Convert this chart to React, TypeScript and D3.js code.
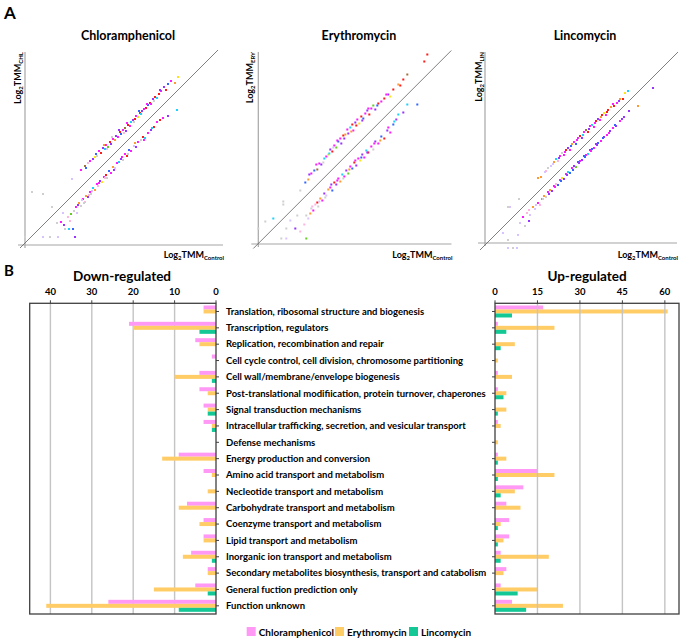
import React from 'react';
import * as d3 from 'd3';

// ---- bar chart data (COG categories) ----
const categories = [
  'Translation, ribosomal structure and biogenesis',
  'Transcription, regulators',
  'Replication, recombination and repair',
  'Cell cycle control, cell division, chromosome partitioning',
  'Cell wall/membrane/envelope biogenesis',
  'Post-translational modifiication, protein turnover, chaperones',
  'Signal transduction mechanisms',
  'Intracellular trafficking, secretion, and vesicular transport',
  'Defense mechanisms',
  'Energy production and conversion',
  'Amino acid transport and metabolism',
  'Necleotide transport and metabolism',
  'Carbohydrate transport and metabolism',
  'Coenzyme transport and metabolism',
  'Lipid transport and metabolism',
  'Inorganic ion transport and metabolism',
  'Secondary metabolites biosynthesis, transport and catabolism',
  'General fuction prediction only',
  'Function unknown',
];
const downChl = [3, 21, 5, 1, 4, 4, 3, 3, 0, 9, 3, 0, 7, 3, 3, 6, 2, 5, 26];
const downEry = [3, 20, 4, 0, 10, 2, 2, 1, 0, 13, 1, 2, 9, 4, 3, 8, 2, 15, 41];
const downLin = [0, 4, 0, 0, 1, 0, 2, 1, 0, 0, 0, 0, 0, 0, 0, 1, 0, 2, 9];
const upChl = [17, 1, 0, 0, 1, 1, 0, 1, 0, 1, 15, 10, 4, 5, 5, 2, 4, 2, 6];
const upEry = [61, 21, 7, 1, 6, 4, 4, 2, 1, 4, 21, 7, 9, 2, 3, 19, 3, 15, 24];
const upLin = [6, 4, 2, 0, 0, 3, 1, 0, 0, 1, 1, 2, 0, 1, 1, 2, 0, 8, 11];
const downTicks = [0, 10, 20, 30, 40];
const upTicks = [0, 15, 30, 45, 60];
const seriesNames = ['Chloramphenicol', 'Erythromycin', 'Lincomycin'];
const seriesColors = ['#ff99f5', '#ffcc66', '#14c896'];

// ---- scatter data: [log2 TMM control, log2 TMM treated, colour index] ----
const dotColors = ['#ff1a1a', '#ff1aff', '#9933ff', '#3366ff', '#1ad1ff', '#ff9933', '#ffe21a', '#66cc22', '#a0703c', '#cfcfcf', '#ffb3e0', '#d9c2ff'];

const chlUp = [
  [5.6, 7.3, 1], [6.0, 7.7, 8], [6.1, 7.5, 3], [6.5, 8.2, 1], [6.8, 8.4, 2], [7.0, 8.6, 6], [7.2, 8.7, 9], [7.4, 9.2, 1],
  [7.6, 9.0, 0], [7.8, 9.5, 2], [8.0, 9.4, 4], [8.1, 9.8, 1], [8.3, 9.6, 7], [8.5, 10.1, 0], [8.6, 9.9, 2], [8.8, 10.4, 1],
  [9.0, 10.3, 5], [9.1, 10.7, 2], [9.3, 10.6, 1], [9.5, 11.1, 0], [9.6, 10.9, 3], [9.8, 11.3, 1], [10.0, 11.5, 8], [10.1, 11.2, 2],
  [10.3, 11.8, 0], [10.5, 11.7, 1], [10.6, 12.1, 4], [10.8, 12.3, 2], [11.0, 12.4, 0], [11.1, 12.7, 1], [11.3, 12.6, 6], [11.5, 13.0, 0],
  [11.7, 13.2, 2], [11.9, 13.4, 1], [12.1, 13.5, 0], [12.3, 13.8, 3], [12.5, 14.0, 0], [12.6, 13.9, 1], [12.8, 14.4, 2], [13.0, 14.6, 0],
  [13.2, 14.5, 4], [13.4, 14.9, 0], [13.6, 15.2, 1], [13.9, 15.6, 2], [14.1, 15.3, 0], [14.3, 15.9, 3], [15.0, 16.0, 5], [15.3, 16.6, 6],
  [6.3, 8.0, 10], [7.1, 8.9, 3], [7.9, 9.8, 5], [8.7, 10.6, 9], [9.4, 11.3, 2], [10.2, 12.0, 1], [10.9, 12.1, 9], [11.6, 12.9, 4],
  [12.2, 13.9, 1], [12.9, 14.2, 9], [13.5, 15.3, 2], [14.6, 16.2, 1], [9.9, 11.0, 10], [11.4, 13.2, 3], [8.2, 9.4, 11],
];
const chlDown = [
  [3.6, 2.1, 1], [3.9, 1.8, 2], [4.0, 1.4, 9], [4.3, 2.6, 10], [4.4, 1.4, 4], [4.6, 2.9, 7], [4.8, 1.4, 3], [4.9, 3.2, 9],
  [5.1, 3.6, 1], [5.2, 3.0, 11], [5.4, 4.0, 5], [5.6, 3.7, 9], [5.8, 4.4, 1], [6.0, 4.1, 10], [6.1, 4.7, 5], [6.3, 4.6, 2],
  [6.5, 5.1, 1], [6.6, 4.9, 9], [6.8, 5.5, 4], [7.0, 5.3, 5], [7.2, 5.9, 1], [7.3, 5.7, 10], [7.5, 6.2, 2], [7.7, 6.1, 6],
  [7.9, 6.6, 1], [8.1, 6.8, 0], [8.2, 6.5, 9], [8.4, 7.2, 3], [8.6, 7.0, 1], [8.8, 7.6, 5], [9.0, 7.5, 11], [9.2, 8.0, 1],
  [9.4, 8.1, 4], [9.6, 8.4, 2], [9.8, 8.3, 9], [10.0, 8.9, 1], [10.2, 8.7, 0], [10.4, 9.3, 3], [10.6, 9.2, 1], [10.9, 9.7, 11],
  [11.1, 9.6, 2], [11.3, 10.1, 1], [11.6, 10.3, 9], [11.8, 10.6, 0], [12.0, 10.5, 4], [12.3, 11.0, 1], [12.6, 11.3, 2], [12.9, 11.6, 0],
  [13.2, 12.1, 1], [13.5, 12.3, 0], [14.3, 12.7, 2], [15.2, 13.3, 4],
  [4.5, 2.2, 10], [5.3, 3.8, 2], [5.9, 4.0, 9], [6.7, 5.2, 11], [7.4, 6.0, 1], [8.0, 6.5, 10], [8.9, 7.3, 2], [9.7, 8.6, 1],
  [10.3, 8.9, 9], [11.0, 10.0, 5], [11.9, 10.3, 1], [12.7, 11.5, 4], [13.8, 12.5, 1], [5.7, 4.3, 11], [6.4, 4.8, 10],
];
const chlOther = [
  [0.7, 5.1, 9], [1.8, 4.9, 9], [2.7, 3.6, 9], [4.7, 6.4, 11], [0.0, 0.6, 9], [1.8, 0.6, 11], [2.5, 0.6, 9], [3.3, 0.6, 11],
  [5.0, 0.6, 2], [3.2, 2.0, 9], [3.8, 3.0, 11],
];

const eryUp = [
  [4.2, 5.3, 9], [4.7, 6.1, 3], [5.0, 6.4, 5], [5.3, 7.0, 1], [5.6, 7.3, 3], [5.9, 7.4, 8], [6.1, 8.0, 1], [6.3, 7.9, 2],
  [6.6, 8.5, 4], [6.8, 8.7, 1], [7.0, 8.9, 6], [7.2, 9.4, 2], [7.4, 9.2, 0], [7.6, 9.8, 1], [7.8, 9.6, 7], [8.0, 10.2, 3],
  [8.2, 10.5, 1], [8.3, 10.0, 2], [8.5, 10.8, 0], [8.7, 10.9, 5], [8.9, 11.4, 1], [9.0, 11.0, 2], [9.2, 11.6, 4], [9.4, 11.9, 0],
  [9.5, 11.3, 1], [9.7, 12.1, 2], [9.9, 12.4, 1], [10.1, 12.0, 6], [10.3, 12.7, 0], [10.5, 12.5, 3], [10.7, 13.0, 1], [10.9, 13.3, 2],
  [11.1, 12.9, 0], [11.3, 13.5, 1], [11.5, 13.8, 7], [11.7, 13.4, 2], [12.0, 14.0, 0], [12.3, 14.2, 1], [12.6, 14.5, 0], [13.0, 14.9, 2],
  [13.5, 15.4, 0], [14.0, 15.9, 5], [14.5, 16.4, 0], [14.9, 16.9, 8], [16.6, 18.2, 0], [16.9, 18.9, 0],
  [5.1, 6.9, 2], [5.8, 7.9, 1], [6.5, 8.1, 9], [7.1, 9.0, 4], [7.9, 10.3, 1], [8.6, 10.5, 2], [9.3, 11.2, 5], [9.8, 11.8, 0],
  [10.4, 12.3, 2], [11.0, 13.5, 1], [11.9, 13.8, 3], [12.8, 14.9, 1], [13.2, 14.7, 6], [14.2, 15.8, 0], [7.5, 9.6, 11],
];
const eryDown = [
  [4.6, 1.9, 10], [4.8, 2.8, 9], [5.0, 2.5, 11], [5.2, 3.0, 5], [5.3, 3.5, 9], [5.5, 3.3, 1], [5.7, 3.9, 10], [5.9, 4.1, 0],
  [6.0, 3.7, 9], [6.2, 4.5, 5], [6.4, 4.3, 1], [6.6, 5.0, 2], [6.8, 4.8, 11], [7.0, 5.4, 5], [7.2, 5.6, 1], [7.4, 5.3, 3],
  [7.6, 6.1, 0], [7.8, 5.9, 2], [8.0, 6.5, 1], [8.2, 6.2, 5], [8.4, 6.9, 4], [8.6, 6.7, 1], [8.8, 7.3, 2], [9.0, 7.0, 7],
  [9.2, 7.7, 1], [9.4, 7.5, 3], [9.6, 8.1, 0], [9.8, 7.8, 2], [10.0, 8.5, 1], [10.2, 8.3, 6], [10.4, 8.9, 2], [10.6, 8.6, 1],
  [10.8, 9.3, 4], [11.0, 9.1, 0], [11.3, 9.7, 1], [11.5, 9.4, 9], [11.7, 10.2, 2], [12.0, 10.0, 1], [12.3, 10.7, 3], [12.6, 10.5, 0],
  [12.9, 11.3, 2], [13.2, 11.1, 1], [13.5, 11.9, 3], [13.8, 12.4, 2], [14.0, 12.9, 4], [14.9, 13.9, 4], [15.9, 13.9, 3],
  [5.4, 3.7, 10], [6.1, 4.2, 11], [6.7, 4.6, 9], [7.3, 5.9, 2], [7.9, 6.3, 1], [8.5, 6.5, 9], [9.1, 7.4, 5], [9.7, 8.3, 1],
  [10.3, 8.6, 3], [10.9, 9.1, 2], [11.6, 10.0, 1], [12.2, 10.3, 5], [13.0, 11.6, 1], [13.6, 12.2, 4], [14.5, 13.1, 2],
];
const eryOther = [
  [2.5, 4.2, 9], [2.5, 3.9, 9], [1.5, 2.5, 4], [0.7, 2.2, 9], [2.8, 1.5, 9], [3.7, 1.5, 2], [4.8, 0.5, 7], [2.3, 0.5, 9],
  [2.8, 0.5, 11], [0.0, 1.5, 9], [3.2, 2.3, 11], [4.2, 1.2, 10], [3.9, 2.8, 9],
];

const linUp = [
  [5.3, 6.7, 5], [5.6, 6.8, 5], [6.0, 7.3, 11], [6.3, 7.7, 9], [6.6, 7.9, 11], [6.9, 8.3, 5], [7.1, 8.6, 4], [7.3, 8.4, 10],
  [7.5, 8.9, 1], [7.7, 9.2, 9], [7.9, 9.0, 1], [8.1, 9.5, 0], [8.3, 9.7, 2], [8.5, 9.5, 1], [8.7, 10.1, 5], [8.9, 10.3, 1],
  [9.1, 10.1, 3], [9.3, 10.7, 1], [9.5, 10.9, 0], [9.7, 10.7, 2], [9.9, 11.3, 1], [10.1, 11.5, 8], [10.3, 11.3, 0], [10.5, 11.9, 1],
  [10.7, 12.0, 4], [10.9, 11.8, 1], [11.1, 12.4, 0], [11.3, 12.6, 2], [11.5, 12.5, 1], [11.7, 13.0, 0], [11.9, 13.2, 6], [12.1, 13.0, 1],
  [12.3, 13.5, 0], [12.6, 13.8, 5], [12.9, 13.9, 0], [13.2, 14.2, 1], [13.5, 14.6, 5], [13.8, 14.6, 0], [14.3, 15.4, 4],
  [6.1, 7.4, 10], [6.8, 8.1, 11], [7.4, 8.7, 2], [8.0, 9.3, 1], [8.6, 9.9, 3], [9.2, 10.5, 1], [9.8, 11.0, 4], [10.4, 11.6, 2],
  [11.0, 12.2, 1], [11.6, 12.8, 5], [12.2, 13.3, 0], [12.8, 14.1, 1], [13.4, 14.4, 2], [14.0, 15.2, 6],
];
const linDown = [
  [3.8, 2.8, 1], [4.2, 3.2, 10], [4.5, 3.0, 11], [4.8, 3.8, 5], [5.0, 3.6, 11], [5.3, 4.2, 1], [5.5, 4.0, 10], [5.7, 4.6, 4],
  [5.9, 4.9, 5], [6.1, 4.8, 9], [6.3, 5.3, 1], [6.5, 5.5, 5], [6.7, 5.4, 2], [6.9, 5.9, 1], [7.1, 6.1, 10], [7.3, 6.0, 3],
  [7.5, 6.5, 1], [7.7, 6.7, 6], [7.9, 6.6, 2], [8.1, 7.1, 1], [8.3, 7.3, 4], [8.5, 7.2, 3], [8.7, 7.7, 1], [8.9, 7.9, 2],
  [9.1, 7.8, 7], [9.3, 8.3, 3], [9.5, 8.4, 1], [9.7, 8.5, 2], [9.9, 8.9, 3], [10.1, 9.0, 1], [10.3, 9.1, 4], [10.5, 9.5, 2],
  [10.7, 9.6, 3], [10.9, 9.7, 1], [11.1, 10.1, 2], [11.3, 10.2, 3], [11.6, 10.4, 1], [11.9, 10.8, 2], [12.2, 11.0, 1], [12.5, 11.4, 2],
  [12.8, 11.7, 1], [13.1, 11.9, 2], [13.5, 12.4, 1], [13.9, 12.8, 2], [14.4, 13.4, 2], [15.3, 13.9, 5], [16.8, 15.7, 2],
  [4.4, 3.5, 10], [5.1, 4.0, 11], [5.8, 4.6, 9], [6.4, 5.1, 2], [7.0, 5.8, 1], [7.6, 6.4, 3], [8.2, 7.0, 2], [8.8, 7.5, 3],
  [9.4, 8.2, 2], [10.0, 8.8, 3], [10.6, 9.4, 1], [11.2, 10.0, 2], [11.8, 10.7, 3], [12.4, 11.2, 1], [13.0, 12.0, 3], [13.7, 12.6, 2],
];
const linOther = [
  [2.3, 3.8, 9], [2.5, 3.8, 11], [3.4, 4.6, 9], [1.8, 1.2, 11], [2.3, 0.5, 9], [3.3, 1.0, 11], [2.3, -0.3, 11], [2.8, -0.3, 9],
  [3.2, -0.3, 11], [4.0, 1.9, 9], [4.4, 2.4, 2], [3.5, 2.2, 11],
];

const FONT = 'Lato, "Open Sans", sans-serif';
const W = 685, H = 639;

const panels = [
  { title: 'Chloramphenicol', sub: 'CHL', ox: 25, oy: 243, axisY: 245, xEnd: 223, labX: 20.5, pts: [...chlOther, ...chlDown, ...chlUp] },
  { title: 'Erythromycin', sub: 'ERY', ox: 258.3, oy: 243.5, axisY: 244, xEnd: 451.5, labX: 252.5, pts: [...eryOther, ...eryDown, ...eryUp] },
  { title: 'Lincomycin', sub: 'LIN', ox: 485, oy: 245, axisY: 243, xEnd: 677, labX: 481.5, pts: [...linOther, ...linDown, ...linUp] },
];

function Scatter({ p }: { p: any }) {
  const x = d3.scaleLinear().domain([0, 20]).range([p.ox, p.ox + 200]);
  const y = d3.scaleLinear().domain([0, 20]).range([p.oy, p.oy - 200]);
  const mid = (p.ox + p.xEnd) / 2 + 4;
  return (
    <g>
      <text x={mid} y={40} textAnchor="middle" fontFamily={FONT} fontWeight="bold" fontSize={12.5}>{p.title}</text>
      <line x1={p.ox} x2={p.ox} y1={52} y2={p.axisY + 3} stroke="#a6a6a6" strokeWidth={1.2} />
      <line x1={p.ox - 7} x2={p.xEnd} y1={p.axisY} y2={p.axisY} stroke="#a6a6a6" strokeWidth={1.2} />
      <line x1={x(-0.5)} y1={y(-0.5)} x2={x(19.3)} y2={y(19.3)} stroke="#606060" strokeWidth={0.8} />
      {p.pts.map((d: number[], i: number) => (
        <rect key={i} x={x(d[0]) - 1} y={y(d[1]) - 1} width={2} height={2} fill={dotColors[d[2]]} />
      ))}
      <text transform={`translate(${p.labX},52) rotate(-90)`} textAnchor="end" fontFamily={FONT} fontWeight="bold" fontSize={9}>
        Log<tspan fontSize={6} dy={2}>2</tspan><tspan dy={-2}>TMM</tspan><tspan fontSize={6} dy={2}>{p.sub}</tspan>
      </text>
      <text x={p.xEnd + 1} y={258} textAnchor="end" fontFamily={FONT} fontWeight="bold" fontSize={9}>
        Log<tspan fontSize={6} dy={2}>2</tspan><tspan dy={-2}>TMM</tspan><tspan fontSize={6} dy={2}>Control</tspan>
      </text>
    </g>
  );
}

export default function App() {
  const top = 303.3, bottom = 614;
  const yb = d3.scaleBand<string>().domain(categories).range([top, bottom]);
  const xL = d3.scaleLinear().domain([0, 45]).range([216, 29.7]);
  const xR = d3.scaleLinear().domain([0, 65]).range([495, 679]);
  const bh = 4;
  const downSeries = [downChl, downEry, downLin];
  const upSeries = [upChl, upEry, upLin];
  const cy = (c: string) => (yb(c) as number) + yb.bandwidth() / 2;
  const legendX = [246.7, 335, 409];

  return (
    <svg width={W} height={H} style={{ position: 'absolute', left: 0, top: 0, background: '#fff' }}>
      <text x={4} y={19} fontFamily={FONT} fontWeight="bold" fontSize={17}>A</text>
      {panels.map((p, i) => <Scatter key={i} p={p} />)}

      <text x={4} y={276} fontFamily={FONT} fontWeight="bold" fontSize={15}>B</text>
      <text x={122} y={280.5} textAnchor="middle" fontFamily={FONT} fontWeight="bold" fontSize={13.5}>Down-regulated</text>
      <text x={587} y={280.5} textAnchor="middle" fontFamily={FONT} fontWeight="bold" fontSize={13.5}>Up-regulated</text>

      {/* left panel */}
      {downTicks.map(t => (
        <g key={t}>
          {t > 0 && <line x1={xL(t)} x2={xL(t)} y1={top} y2={bottom} stroke="#c4c4c4" strokeWidth={1.4} />}
          <line x1={xL(t)} x2={xL(t)} y1={top - 3} y2={top} stroke="#404040" strokeWidth={1} />
          <text x={xL(t)} y={294.5} textAnchor="middle" fontFamily={FONT} fontWeight="bold" fontSize={9.5}>{t}</text>
        </g>
      ))}
      {categories.map((c, i) => (
        <g key={c}>
          {downSeries.map((s, k) => s[i] > 0 && (
            <rect key={k} x={xL(s[i])} y={cy(c) - bh * 1.5 + k * bh} width={xL(0) - xL(s[i])} height={bh} fill={seriesColors[k]} />
          ))}
          {upSeries.map((s, k) => s[i] > 0 && (
            <rect key={k} x={xR(0)} y={cy(c) - bh * 1.5 + k * bh} width={xR(s[i]) - xR(0)} height={bh} fill={seriesColors[k]} />
          ))}
          <line x1={xL(0)} x2={xL(0) + 3} y1={cy(c)} y2={cy(c)} stroke="#404040" strokeWidth={1} />
          <line x1={xR(0) - 3} x2={xR(0)} y1={cy(c)} y2={cy(c)} stroke="#404040" strokeWidth={1} />
          <text x={226} y={cy(c) + 3.3} fontFamily={FONT} fontWeight="bold" fontSize={9.5}>{c}</text>
        </g>
      ))}
      <rect x={xL(45)} y={top} width={xL(0) - xL(45)} height={bottom - top} fill="none" stroke="#404040" strokeWidth={1.3} />

      {/* right panel */}
      {upTicks.map(t => (
        <g key={t}>
          {t > 0 && <line x1={xR(t)} x2={xR(t)} y1={top} y2={bottom} stroke="#c4c4c4" strokeWidth={1.4} />}
          <line x1={xR(t)} x2={xR(t)} y1={top - 3} y2={top} stroke="#404040" strokeWidth={1} />
          <text x={xR(t)} y={294.5} textAnchor="middle" fontFamily={FONT} fontWeight="bold" fontSize={9.5}>{t}</text>
        </g>
      ))}
      <rect x={xR(0)} y={top} width={xR(65) - xR(0)} height={bottom - top} fill="none" stroke="#404040" strokeWidth={1.3} />

      {/* legend */}
      {seriesNames.map((n, k) => (
        <g key={n}>
          <rect x={legendX[k]} y={627} width={9} height={9} fill={seriesColors[k]} />
          <text x={legendX[k] + 12} y={635.5} fontFamily={FONT} fontWeight="bold" fontSize={10}>{n}</text>
        </g>
      ))}
    </svg>
  );
}
